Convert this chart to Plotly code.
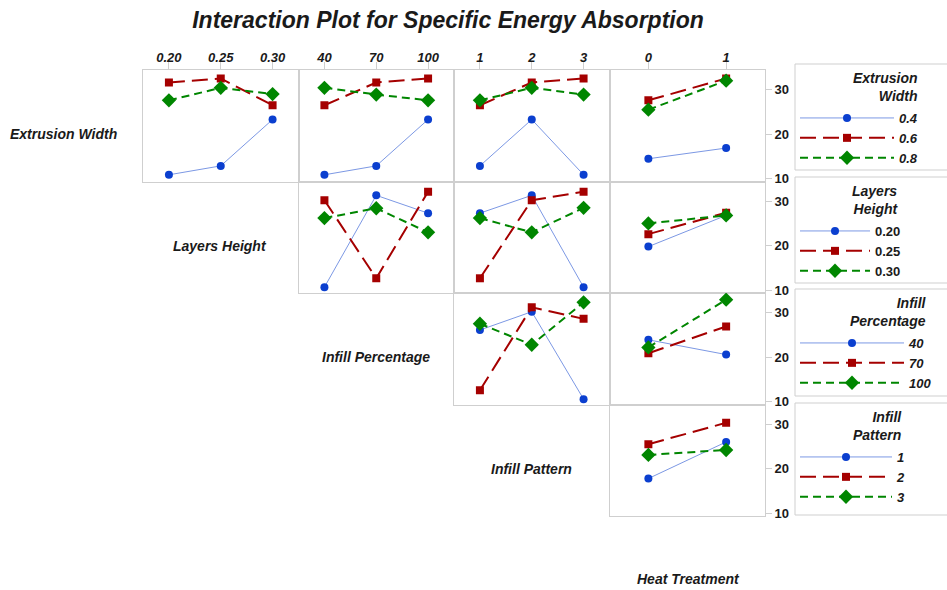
import plotly.graph_objects as go

# ---- chart text ----------------------------------------------------------
title_text = "Interaction Plot for Specific Energy Absorption"
factor_names = ["Extrusion Width", "Layers Height", "Infill Percentage",
                "Infill Pattern", "Heat Treatment"]
legend_titles = ["Extrusion<br>Width", "Layers<br>Height",
                 "Infill<br>Percentage", "Infill<br>Pattern"]

# ---- factor levels -------------------------------------------------------
extrusion_width = ["0.4", "0.6", "0.8"]
layers_height = ["0.20", "0.25", "0.30"]
infill_percentage = ["40", "70", "100"]
infill_pattern = ["1", "2", "3"]
heat_treatment = ["0", "1"]

# ---- mean specific energy absorption (one row per line level) ------------
ew_by_lh = [[10.9, 12.9, 23.3], [31.6, 32.5, 26.5], [27.6, 30.4, 29.0]]
ew_by_ip = [[10.9, 12.9, 23.3], [26.5, 31.6, 32.5], [30.4, 28.9, 27.6]]
ew_by_pat = [[12.9, 23.3, 10.9], [26.5, 31.6, 32.5], [27.6, 30.4, 28.9]]
ew_by_ht = [[14.5, 16.9], [27.6, 32.5], [25.5, 32.0]]

lh_by_ip = [[10.7, 31.3, 27.3], [30.2, 12.7, 32.1], [26.2, 28.4, 23.0]]
lh_by_pat = [[27.3, 31.3, 10.7], [12.7, 30.2, 32.1], [26.2, 23.0, 28.5]]
lh_by_ht = [[19.8, 26.8], [22.6, 27.4], [25.0, 26.8]]

ip_by_pat = [[26.1, 30.2, 10.6], [12.6, 31.2, 28.6], [27.5, 22.8, 32.3]]
ip_by_ht = [[23.9, 20.6], [20.9, 26.9], [22.2, 32.9]]

pat_by_ht = [[17.8, 26.0], [25.5, 30.3], [23.1, 24.2]]

y_ticks = [10, 20, 30]

# ---- panel assembly ------------------------------------------------------
row_levels = [extrusion_width, layers_height, infill_percentage, infill_pattern]
col_levels = [layers_height, infill_percentage, infill_pattern, heat_treatment]
panel_means = {
    (0, 0): ew_by_lh, (0, 1): ew_by_ip, (0, 2): ew_by_pat, (0, 3): ew_by_ht,
    (1, 1): lh_by_ip, (1, 2): lh_by_pat, (1, 3): lh_by_ht,
    (2, 2): ip_by_pat, (2, 3): ip_by_ht,
    (3, 3): pat_by_ht,
}

W, H = 947, 590
col_edges = [143, 298.5, 454, 609.5, 765]
row_edges = [70, 181.5, 293, 404.5, 516]


def fx(px):
    return px / W


def fy(py):
    return 1 - py / H


series_style = [
    dict(line=dict(color="#7c98e4", width=1, dash="solid"),
         marker=dict(symbol="circle", size=8, color="#0b3fcf")),
    dict(line=dict(color="#a50000", width=2, dash="16px,7px"),
         marker=dict(symbol="square", size=8, color="#a50000")),
    dict(line=dict(color="#008600", width=2, dash="8px,5px"),
         marker=dict(symbol="diamond", size=11, color="#008600")),
]

legend_ids = ["legend", "legend2", "legend3", "legend4"]
legend_boxes = [(64, 170), (177, 283), (289, 396), (403, 515)]
legend_itemwidth = [94, 70, 104, 92]
legend_title_right = [920, 900, 929, 904]

bold_italic = dict(family="Liberation Sans", weight="bold", style="italic",
                   color="#1a1a1a")
bold = dict(family="Liberation Sans", weight="bold", color="#1a1a1a")
frame = "#cfcfcf"

fig = go.Figure()
layout = {}

k = 0
for (r, c), means in panel_means.items():
    k += 1
    xa = "x" if k == 1 else f"x{k}"
    ya = "y" if k == 1 else f"y{k}"
    xkey = "xaxis" if k == 1 else f"xaxis{k}"
    ykey = "yaxis" if k == 1 else f"yaxis{k}"
    xcats = col_levels[c]
    layout[xkey] = dict(
        domain=[fx(col_edges[c]), fx(col_edges[c + 1])],
        anchor=ya, type="category", categoryorder="array",
        categoryarray=xcats, range=[-0.5, len(xcats) - 0.5],
        showline=True, mirror=True, linecolor=frame, linewidth=1,
        showgrid=False, zeroline=False,
        side="top",
        ticks="outside" if r == 0 else "", ticklen=7, tickcolor=frame,
        showticklabels=(r == 0), ticklabelstandoff=-5,
        tickfont=dict(size=13, **bold_italic),
    )
    layout[ykey] = dict(
        domain=[fy(row_edges[r + 1]), fy(row_edges[r])],
        anchor=xa, range=[9.4, 34.4],
        showline=True, mirror=True, linecolor=frame, linewidth=1,
        showgrid=False, zeroline=False,
        side="right", tickvals=y_ticks,
        ticks="outside" if c == 3 else "", ticklen=6, tickcolor=frame,
        showticklabels=(c == 3),
        tickfont=dict(size=13, **bold),
    )
    for i, level in enumerate(row_levels[r]):
        st = series_style[i]
        fig.add_trace(go.Scatter(
            x=xcats, y=means[i], xaxis=xa, yaxis=ya,
            mode="lines+markers", name=level,
            line=st["line"], marker=st["marker"],
            legend=legend_ids[r], legendgroup=f"r{r}s{i}",
            showlegend=(c == r), hoverinfo="x+y+name",
        ))

shapes = []
annotations = []
for r in range(4):
    top, bottom = legend_boxes[r]
    lfont = bold if r == 1 else bold_italic
    layout[legend_ids[r]] = dict(
        x=fx(795), y=fy(top + 39), xanchor="left", yanchor="top",
        borderwidth=0, bgcolor="rgba(0,0,0,0)",
        itemwidth=legend_itemwidth[r],
        font=dict(size=13, **lfont),
        tracegroupgap=0, itemclick=False, itemdoubleclick=False,
    )
    # legend frame, running off the right edge of the page
    shapes.append(dict(
        type="rect", xref="paper", yref="paper", layer="below",
        x0=fx(795), x1=fx(965), y0=fy(bottom), y1=fy(top),
        line=dict(color=frame, width=1), fillcolor="white",
    ))
    # right-aligned two-line legend heading
    annotations.append(dict(
        text=legend_titles[r], x=fx(legend_title_right[r]), y=fy(top + 4),
        xref="paper", yref="paper", showarrow=False,
        xanchor="right", yanchor="top", align="right",
        font=dict(size=14, **bold_italic),
    ))

# factor names along the diagonal
label_pos = [(63, 134), (220, 246), (376, 357), (531, 469), (688, 579)]
annotations += [
    dict(text=name, x=fx(px), y=fy(py), xref="paper", yref="paper",
         showarrow=False, xanchor="center", yanchor="middle",
         font=dict(size=14, **bold_italic))
    for name, (px, py) in zip(factor_names, label_pos)
]

fig.update_layout(
    width=W, height=H, margin=dict(l=0, r=0, t=0, b=0, autoexpand=False),
    paper_bgcolor="white", plot_bgcolor="white",
    title=dict(text=title_text, x=fx(448), y=fy(20), xanchor="center",
               yanchor="middle", font=dict(size=23, **bold_italic)),
    annotations=annotations, shapes=shapes, showlegend=True,
    **layout,
)

fig.write_html("out.html")
